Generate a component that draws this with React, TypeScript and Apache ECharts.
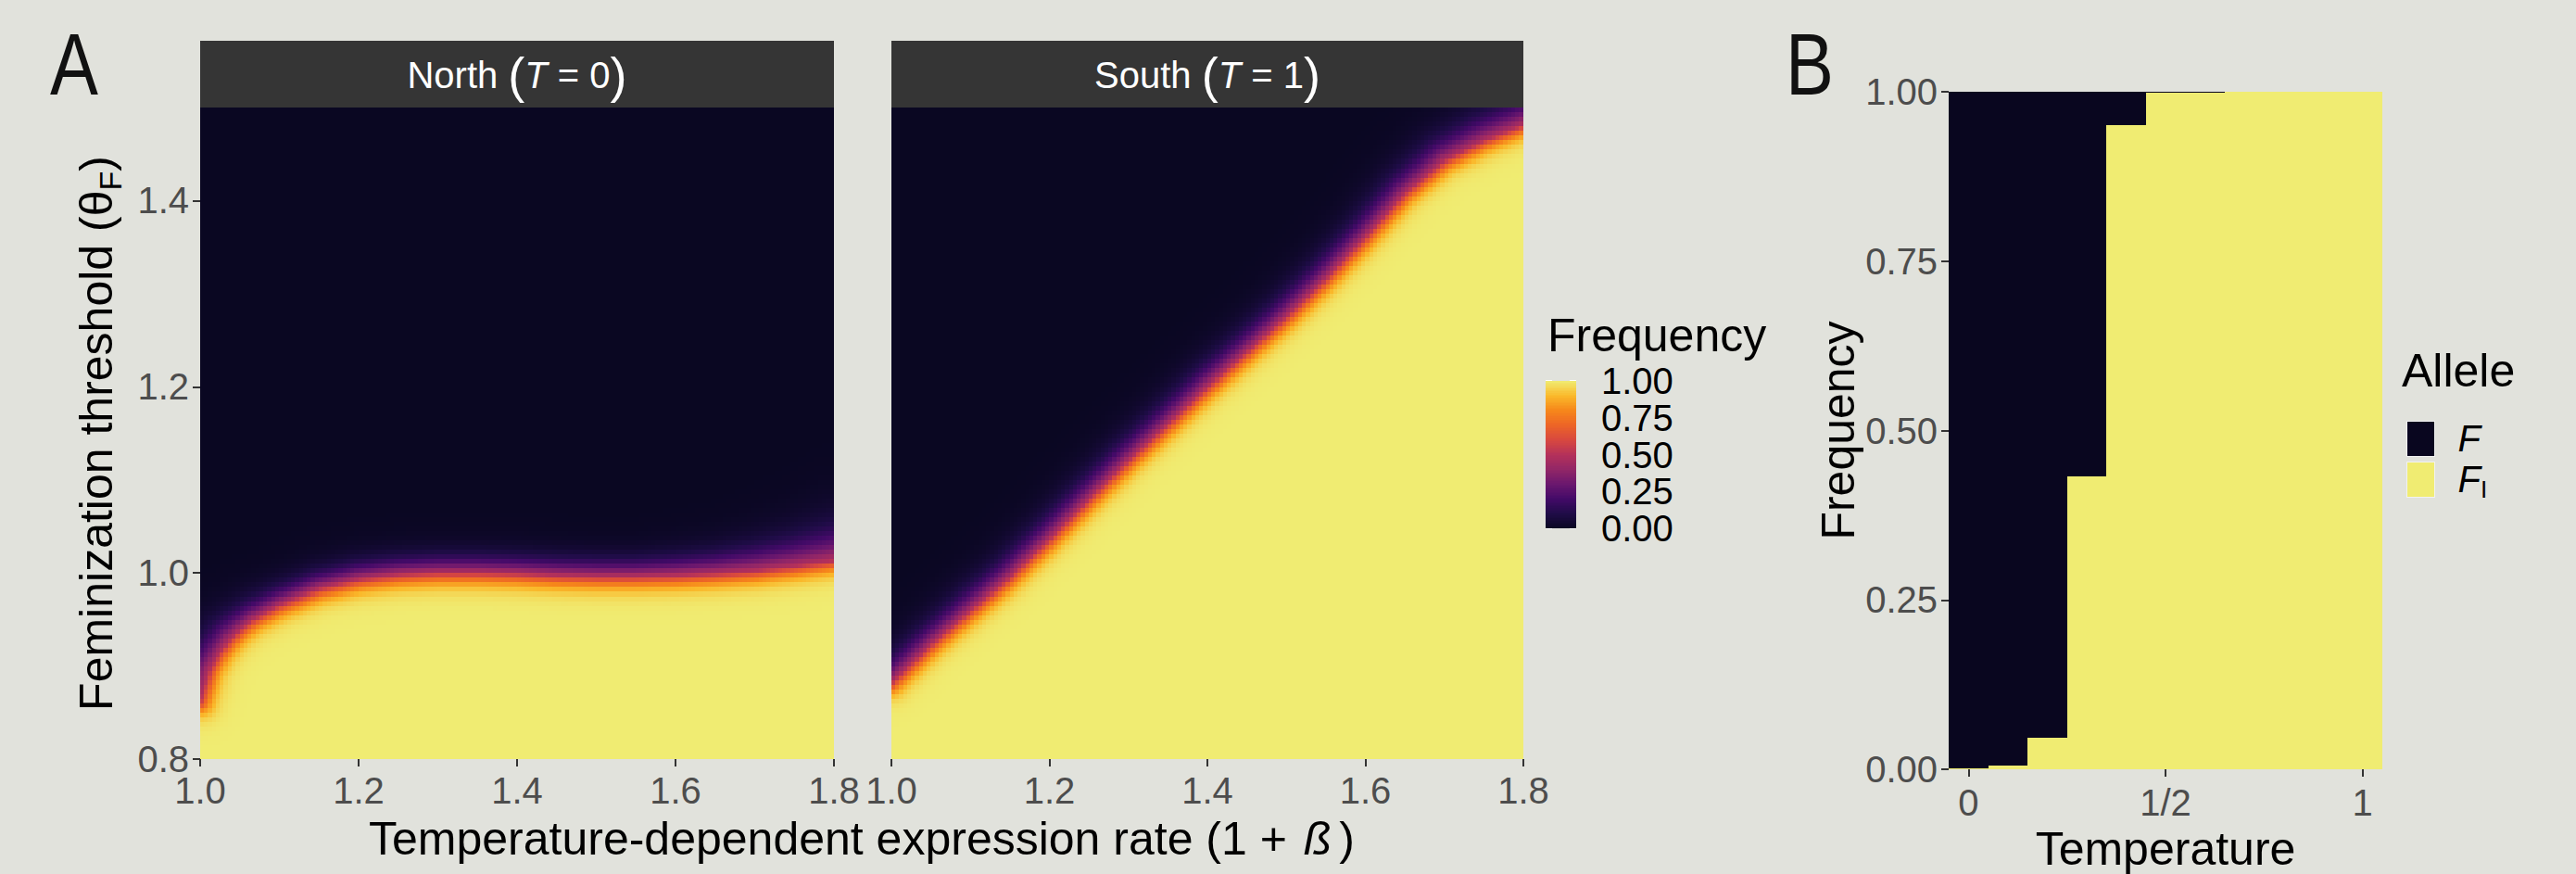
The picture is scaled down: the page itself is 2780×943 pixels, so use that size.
import React, { useEffect, useRef } from "react";
import * as echarts from "echarts";

// ---------- data ----------
const panelNames = ["North", "South"];
// 0.5-frequency contour of panel North (x = 1 + beta, y = theta_F)
const northContourX = [1.0, 1.012, 1.025, 1.038, 1.05, 1.066, 1.1, 1.15, 1.2, 1.25, 1.3, 1.35, 1.4, 1.45, 1.5, 1.55, 1.6, 1.65, 1.7, 1.75, 1.8];
const northContourY = [0.862, 0.896, 0.915, 0.929, 0.939, 0.95, 0.966, 0.983, 0.993, 0.998, 1.0, 1.0, 0.999, 0.997, 0.996, 0.996, 0.997, 0.999, 1.002, 1.007, 1.013];
// transition spread (px) on the dark side and on the yellow side
const northUpperSpread = [14, 14, 13, 13, 12, 11, 10, 10, 10, 10, 10, 10, 10, 10, 10, 10, 11, 12, 14, 16, 19];
const northLowerSpread = [7, 7, 7, 7, 7, 7, 7, 7, 7, 7, 7, 7, 7, 7, 7, 7, 7, 7, 7, 7, 7];
// 0.5-frequency contour of panel South
const southContourX = [1.0, 1.05, 1.1, 1.15, 1.2, 1.25, 1.3, 1.35, 1.4, 1.45, 1.5, 1.55, 1.6, 1.65, 1.7, 1.75, 1.8];
const southContourY = [0.882, 0.923, 0.96, 0.995, 1.036, 1.079, 1.121, 1.16, 1.2, 1.237, 1.275, 1.316, 1.361, 1.408, 1.443, 1.464, 1.481];
const southUpperSpread = [11, 11, 11, 11, 11, 11, 11, 11, 11, 11, 11, 11, 11, 12, 13, 14, 14];
const southLowerSpread = [6.5, 6.5, 6.5, 6.5, 6.5, 6.5, 6.5, 6.5, 6.5, 6.5, 6.5, 6.5, 6.5, 6.5, 6.5, 6.5, 6.5];

const rateTicks = [1.0, 1.2, 1.4, 1.6, 1.8];
const thresholdTicks = [0.8, 1.0, 1.2, 1.4];
const frequencyTicks = [0, 0.25, 0.5, 0.75, 1];
const frequencyLabelsA = [0, 0.5, 1];
const frequencyLabelsB = [0.25, 0.75];

// Panel B
const temperatures = ["0", "0.1", "0.2", "0.3", "0.4", "0.5", "0.6", "0.7", "0.8", "0.9", "1"];
const temperatureTickLabels: Record<string, string> = { "0": "0", "0.5": "1/2", "1": "1" };
const freqFI = [0.002, 0.006, 0.047, 0.432, 0.951, 0.998, 0.9992, 0.9996, 1.0, 0.9995, 1.0];
const freqF = [0.998, 0.994, 0.953, 0.568, 0.049, 0.002, 0.0008, 0.0004, 0.0, 0.0005, 0.0];

// ---------- layout / style ----------
const BG = "#E1E2DC";
const FONT = "Liberation Sans, Arial, Helvetica, sans-serif";
const X_MIN = 1.0, X_MAX = 1.8, Y_MIN = 0.8, Y_MAX = 1.5;
const NX = 160, NY = 140;
const PANEL_TOP = 116, PANEL_H = 703;
const NORTH_LEFT = 216, NORTH_W = 684;
const SOUTH_LEFT = 962, SOUTH_W = 682;
const CB_LEFT = 1668, CB_TOP = 411, CB_W = 33, CB_H = 159;
const B_LEFT = 2103, B_TOP = 99, B_W = 468, B_H = 731;
const STRIP_TOP = 44, STRIP_H = 72;
const HEAT_COLORS = ["#0A0722", "#1F0C47", "#430A68", "#6A176E", "#922667", "#B4315A", "#D8483F", "#EC6427", "#F6871A", "#FAB82A", "#F0EC72"];
const DARK = "#09061F";
const YELLOW = "#F0EC72";
const TICK_COLOR = "#333333";
const LABEL_COLOR = "#4D4D4D";

function buildField(cx: number[], cy: number[], up: number[], low: number[], pxW: number, pxH: number) {
  const sx = pxW / (X_MAX - X_MIN);
  const sy = pxH / (Y_MAX - Y_MIN);
  const P = cx.map((x, i) => [(x - X_MIN) * sx, (cy[i] - Y_MIN) * sy]);
  const dx = (X_MAX - X_MIN) / NX;
  const dy = (Y_MAX - Y_MIN) / NY;
  const out: number[][] = [];
  for (let i = 0; i < NX; i++) {
    const px = (i + 0.5) * dx * sx;
    let seg = 0;
    while (seg < P.length - 2 && P[seg + 1][0] < px) seg++;
    const t0 = (px - P[seg][0]) / (P[seg + 1][0] - P[seg][0]);
    const yc = P[seg][1] + t0 * (P[seg + 1][1] - P[seg][1]);
    for (let j = 0; j < NY; j++) {
      const py = (j + 0.5) * dy * sy;
      let best = Infinity, bk = 0, bt = 0;
      for (let k = 0; k < P.length - 1; k++) {
        const ax = P[k][0], ay = P[k][1];
        const vx = P[k + 1][0] - ax, vy = P[k + 1][1] - ay;
        let t = ((px - ax) * vx + (py - ay) * vy) / (vx * vx + vy * vy);
        t = Math.max(0, Math.min(1, t));
        const d = Math.hypot(ax + t * vx - px, ay + t * vy - py);
        if (d < best) { best = d; bk = k; bt = t; }
      }
      const above = py > yc;
      const spread = above ? up[bk] + (up[bk + 1] - up[bk]) * bt : low[bk] + (low[bk + 1] - low[bk]) * bt;
      const d = above ? best : -best;
      out.push([i, j, +(1 / (1 + Math.exp(d / spread))).toFixed(4)]);
    }
  }
  return out;
}

function stripGraphic(left: number, width: number, region: string, t: string) {
  return [
    { type: "rect", shape: { x: left, y: STRIP_TOP, width, height: STRIP_H }, style: { fill: "#353535" }, silent: true },
    {
      type: "text", x: left + width / 2, y: STRIP_TOP + STRIP_H / 2 + 1, silent: true,
      style: {
        text: `{n|${region} }{p|(}{i|T}{n| = ${t}}{p|)}`,
        align: "center", verticalAlign: "middle", fill: "#fff", fontFamily: FONT,
        rich: {
          n: { fontSize: 40, fill: "#fff", fontFamily: FONT },
          i: { fontSize: 40, fill: "#fff", fontStyle: "italic", fontFamily: FONT },
          p: { fontSize: 54, fill: "#fff", fontFamily: FONT },
        },
      },
    },
  ];
}

export default function App() {
  const ref = useRef<HTMLDivElement>(null);
  useEffect(() => {
    document.body.style.margin = "0";
    document.body.style.background = BG;
    const st = document.createElement("style");
    st.textContent = "svg path { shape-rendering: crispEdges; }";
    document.head.appendChild(st);
    if (!ref.current) return;
    const chart = echarts.init(ref.current, null, { renderer: "svg" });

    const xCats = Array.from({ length: NX }, (_, i) => String(i));
    const yCats = Array.from({ length: NY }, (_, j) => String(j));
    const northData = buildField(northContourX, northContourY, northUpperSpread, northLowerSpread, NORTH_W, PANEL_H);
    const southData = buildField(southContourX, southContourY, southUpperSpread, southLowerSpread, SOUTH_W, PANEL_H);
    const cbCats = Array.from({ length: 100 }, (_, j) => String(j));
    const cbData = cbCats.map((_, j) => [0, j, (j + 0.5) / 100]);

    const tickLabel = { color: LABEL_COLOR, fontSize: 40, fontFamily: FONT };
    const tick = { show: true, length: 8, lineStyle: { color: TICK_COLOR, width: 2 } };
    const hiddenCat = (data: string[], pos: string, gridIndex: number) => ({
      type: "category", data, gridIndex, position: pos, show: false, boundaryGap: true,
    });
    const rateAxis = (gridIndex: number) => ({
      type: "value", gridIndex, min: X_MIN, max: X_MAX, position: "bottom",
      axisLine: { show: false }, splitLine: { show: false },
      axisTick: { ...tick, customValues: rateTicks },
      axisLabel: { ...tickLabel, margin: 14, showMinLabel: true, showMaxLabel: true, customValues: rateTicks, formatter: (v: number) => v.toFixed(1) },
    });
    const cbLabel = (values: number[]) => ({
      color: "#000", fontSize: 40, fontFamily: FONT, margin: 27, showMinLabel: true, showMaxLabel: true,
      customValues: values, formatter: (v: number) => v.toFixed(2),
    });
    const cbGrid = { left: CB_LEFT, top: CB_TOP, width: CB_W, height: CB_H, outerBoundsMode: "none" };

    const option: any = {
      animation: false,
      backgroundColor: BG,
      textStyle: { fontFamily: FONT },
      grid: [
        { left: NORTH_LEFT, top: PANEL_TOP, width: NORTH_W, height: PANEL_H, outerBoundsMode: "none" },
        { left: SOUTH_LEFT, top: PANEL_TOP, width: SOUTH_W, height: PANEL_H, outerBoundsMode: "none" },
        cbGrid,
        { left: B_LEFT, top: B_TOP, width: B_W, height: B_H, outerBoundsMode: "none" },
        cbGrid,
        cbGrid,
      ],
      xAxis: [
        hiddenCat(xCats, "top", 0),
        rateAxis(0),
        hiddenCat(xCats, "top", 1),
        rateAxis(1),
        hiddenCat(["bar"], "top", 2),
        {
          type: "category", gridIndex: 3, data: temperatures, position: "bottom",
          name: "Temperature", nameLocation: "middle", nameGap: 58,
          nameTextStyle: { fontSize: 50, color: "#000", fontFamily: FONT },
          axisLine: { show: false },
          axisTick: { ...tick, alignWithLabel: true, interval: (_i: number, v: string) => v in temperatureTickLabels },
          axisLabel: { ...tickLabel, margin: 16, interval: (_i: number, v: string) => v in temperatureTickLabels, formatter: (v: string) => temperatureTickLabels[v] ?? "" },
        },
        { type: "value", gridIndex: 4, show: false, min: 0, max: 1 },
        { type: "value", gridIndex: 5, show: false, min: 0, max: 1 },
      ],
      yAxis: [
        hiddenCat(yCats, "right", 0),
        {
          type: "value", gridIndex: 0, min: Y_MIN, max: Y_MAX, position: "left",
          name: "{n|Feminization threshold (}{g|θ}{s|F}{n|)}", nameLocation: "middle", nameGap: 80, nameRotate: 90,
          nameTextStyle: {
            fontSize: 50, color: "#000", fontFamily: FONT,
            rich: {
              n: { fontSize: 50, color: "#000", fontFamily: FONT, lineHeight: 64 },
              g: { fontSize: 50, color: "#000", fontFamily: FONT, lineHeight: 64 },
              s: { fontSize: 34, color: "#000", fontFamily: FONT, verticalAlign: "bottom", lineHeight: 64 },
            },
          },
          axisLine: { show: false }, splitLine: { show: false },
          axisTick: { ...tick, customValues: thresholdTicks },
          axisLabel: { ...tickLabel, margin: 12, showMinLabel: true, showMaxLabel: true, customValues: thresholdTicks, formatter: (v: number) => v.toFixed(1) },
        },
        hiddenCat(yCats, "right", 1),
        { type: "value", gridIndex: 1, min: Y_MIN, max: Y_MAX, show: false },
        hiddenCat(cbCats, "left", 2),
        {
          type: "value", gridIndex: 2, min: 0, max: 1, position: "right",
          axisLine: { show: false }, splitLine: { show: false },
          axisTick: { show: true, inside: true, length: 7, customValues: frequencyTicks, lineStyle: { color: "#fff", width: 1.5 } },
          axisLabel: cbLabel(frequencyLabelsA),
        },
        {
          type: "value", gridIndex: 3, min: 0, max: 1, interval: 0.25, position: "left",
          name: "Frequency", nameLocation: "middle", nameGap: 92, nameRotate: 90,
          nameTextStyle: { fontSize: 50, color: "#000", fontFamily: FONT },
          axisLine: { show: false }, splitLine: { show: false },
          axisTick: tick,
          axisLabel: { ...tickLabel, margin: 12, showMinLabel: true, showMaxLabel: true, formatter: (v: number) => v.toFixed(2) },
        },
        {
          type: "value", gridIndex: 4, min: 0, max: 1, position: "left",
          axisLine: { show: false }, splitLine: { show: false }, axisLabel: { show: false },
          axisTick: { show: true, inside: true, length: 7, customValues: frequencyTicks, lineStyle: { color: "#fff", width: 1.5 } },
        },
        {
          type: "value", gridIndex: 5, min: 0, max: 1, position: "right",
          axisLine: { show: false }, splitLine: { show: false }, axisTick: { show: false },
          axisLabel: cbLabel(frequencyLabelsB),
        },
      ],
      visualMap: {
        type: "continuous", show: false, min: 0, max: 1, dimension: 2, seriesIndex: [0, 1, 2],
        inRange: { color: HEAT_COLORS },
      },
      legend: {
        data: ["F", "FI"], orient: "vertical", left: 2592, top: 448, itemWidth: 30, itemHeight: 38, itemGap: 4,
        icon: "rect", selectedMode: false,
        itemStyle: { borderColor: "#F2F2F2", borderWidth: 1 },
        formatter: (name: string) => (name === "F" ? "{i|F}" : "{i|F}{s|I}"),
        textStyle: {
          fontSize: 40, color: "#000", fontFamily: FONT,
          rich: {
            i: { fontSize: 40, fontStyle: "italic", color: "#000", fontFamily: FONT, padding: [0, 0, 0, 20], lineHeight: 48 },
            s: { fontSize: 26, color: "#000", fontFamily: FONT, verticalAlign: "bottom", lineHeight: 48 },
          },
        },
      },
      series: [
        { name: panelNames[0], type: "heatmap", xAxisIndex: 0, yAxisIndex: 0, data: northData, progressive: 0, emphasis: { disabled: true }, itemStyle: { borderWidth: 0 } },
        { name: panelNames[1], type: "heatmap", xAxisIndex: 2, yAxisIndex: 2, data: southData, progressive: 0, emphasis: { disabled: true }, itemStyle: { borderWidth: 0 } },
        { name: "colorbar", type: "heatmap", xAxisIndex: 4, yAxisIndex: 4, data: cbData, progressive: 0, emphasis: { disabled: true }, itemStyle: { borderWidth: 0 } },
        { name: "FI", type: "bar", xAxisIndex: 5, yAxisIndex: 6, stack: "allele", data: freqFI, barCategoryGap: "0%", itemStyle: { color: YELLOW }, emphasis: { disabled: true } },
        { name: "F", type: "bar", xAxisIndex: 5, yAxisIndex: 6, stack: "allele", data: freqF, barCategoryGap: "0%", itemStyle: { color: DARK }, emphasis: { disabled: true } },
      ],
      graphic: [
        ...stripGraphic(NORTH_LEFT, NORTH_W, panelNames[0], "0"),
        ...stripGraphic(SOUTH_LEFT, SOUTH_W, panelNames[1], "1"),
        { type: "text", x: 80, y: 69, scaleX: 0.82, silent: true, style: { text: "A", fontSize: 95, fontFamily: FONT, fill: "#111", align: "center", verticalAlign: "middle" } },
        { type: "text", x: 1953, y: 69, scaleX: 0.82, silent: true, style: { text: "B", fontSize: 95, fontFamily: FONT, fill: "#111", align: "center", verticalAlign: "middle" } },
        {
          type: "text", x: (NORTH_LEFT + SOUTH_LEFT + SOUTH_W) / 2, y: 905, silent: true,
          style: {
            text: "{n|Temperature-dependent expression rate (1 + }{b|ß}{n|)}", align: "center", verticalAlign: "middle", fontFamily: FONT,
            rich: { n: { fontSize: 50, fill: "#000", fontFamily: FONT }, b: { fontSize: 50, fill: "#000", fontStyle: "italic", fontFamily: FONT, padding: [0, 8, 0, 4] } },
          },
        },
        { type: "text", x: 1670, y: 362, silent: true, style: { text: "Frequency", fontSize: 50, fontFamily: FONT, fill: "#000", align: "left", verticalAlign: "middle" } },
        { type: "text", x: 2592, y: 400, silent: true, style: { text: "Allele", fontSize: 50, fontFamily: FONT, fill: "#000", align: "left", verticalAlign: "middle" } },
      ],
    };
    chart.setOption(option);
    return () => {
      chart.dispose();
      st.remove();
    };
  }, []);
  return <div ref={ref} style={{ width: 2780, height: 943 }} />;
}
